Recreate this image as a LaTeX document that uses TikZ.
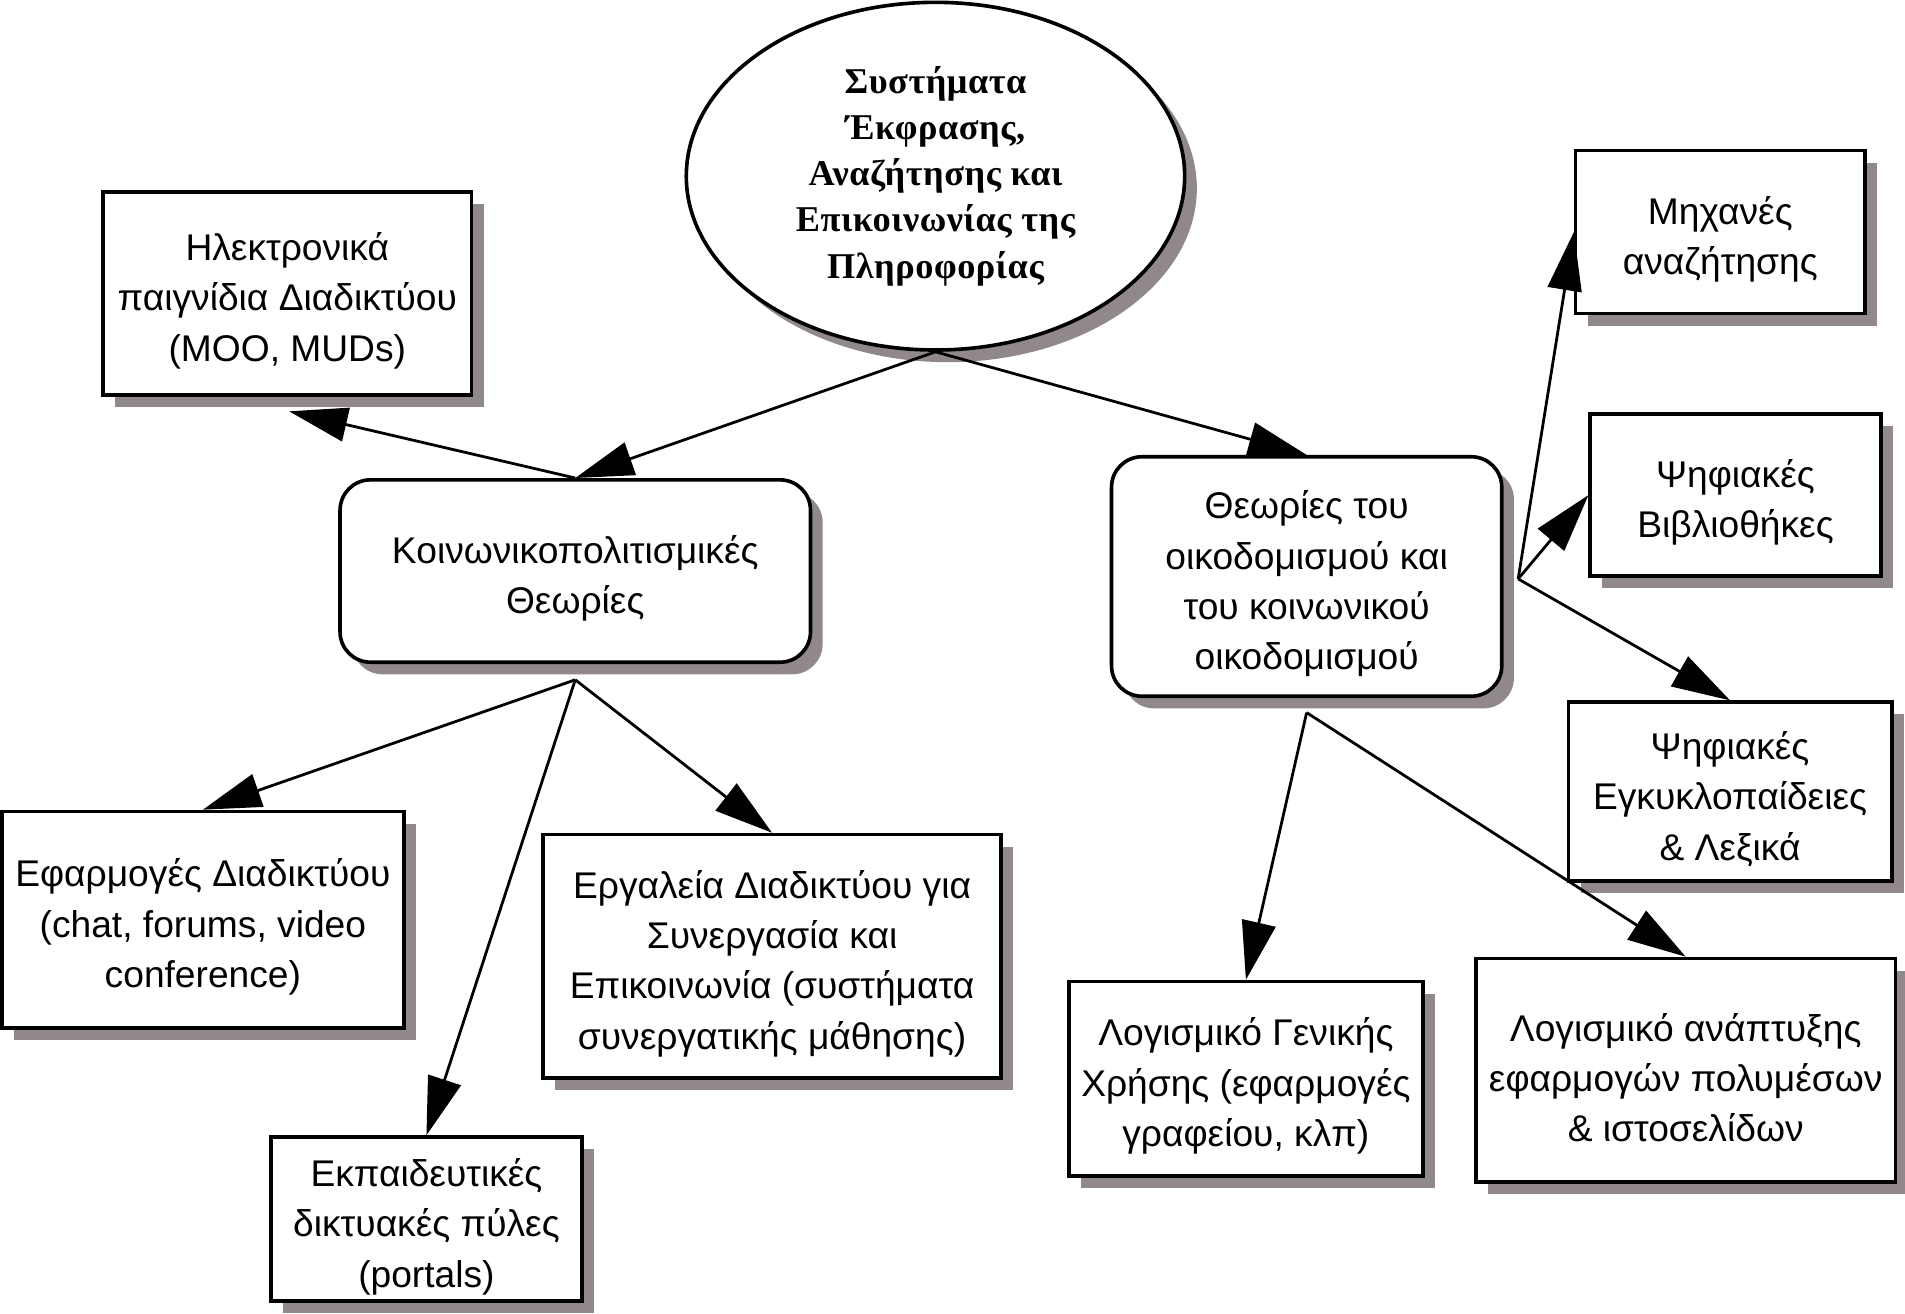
\documentclass[tikz,border=0pt]{standalone}
\usepackage{fontspec}
\setmainfont{Liberation Sans}
\newfontfamily\titlefont[LetterSpace=1.5]{Liberation Serif}
\usetikzlibrary{arrows.meta,shapes.geometric,shadows}
\definecolor{shadowgray}{RGB}{145,137,137}
\newcommand{\topstrut}{\vrule width 0pt height 10pt\relax}
\begin{document}
\begin{tikzpicture}[x=0.01cm, y=-0.01cm,
  shade/.style={drop shadow={shadow xshift=1mm, shadow yshift=-1mm, fill=shadowgray, opacity=1}},
  box/.style={draw, shape=rectangle, line width=0.85pt, fill=white, shade, align=center,
    inner sep=0pt, font=\fontsize{8.7}{11.8}\selectfont},
  rbox/.style={box, rounded corners=2.5mm},
  topic/.style={draw, shape=ellipse, line width=0.85pt, fill=white, shade, align=center,
    inner sep=0pt, font=\titlefont\bfseries\fontsize{8.5}{10.8}\selectfont},
  arr/.style={-{Triangle[length=4.8mm, width=2.8mm]}, line width=0.65pt}]
\useasboundingbox (0,0) rectangle (1568,1081);
% top of the map
\node (systems) [topic, minimum width=4.1cm, minimum height=2.86cm] at (770,145)
  {Συστήματα\\Έκφρασης,\\Αναζήτησης και\\Επικοινωνίας της\\Πληροφορίας};
\node (games) [box, minimum width=3.03cm, minimum height=1.67cm] at (236.5,241.5)
  {\topstrut Ηλεκτρονικά\\παιγνίδια Διαδικτύου\\(MOO, MUDs)};
% the two theories
\node (social) [rbox, minimum width=3.87cm, minimum height=1.5cm] at (473.5,470)
  {\topstrut Κοινωνικοπολιτισμικές\\Θεωρίες};
\node (constr) [rbox, minimum width=3.21cm, minimum height=1.97cm] at (1075.5,474.5)
  {\topstrut Θεωρίες του\\οικοδομισμού και\\του κοινωνικού\\οικοδομισμού};
% right column
\node (engines) [box, minimum width=2.38cm, minimum height=1.34cm] at (1416,191)
  {\topstrut Μηχανές\\αναζήτησης};
\node (libs) [box, minimum width=2.39cm, minimum height=1.33cm] at (1428.5,407.5)
  {\topstrut Ψηφιακές\\Βιβλιοθήκες};
\node (encyc) [box, minimum width=2.66cm, minimum height=1.47cm] at (1424,651.5)
  {\topstrut Ψηφιακές\\Εγκυκλοπαίδειες\\\& Λεξικά};
% bottom row
\node (apps) [box, minimum width=3.31cm, minimum height=1.78cm] at (167,757)
  {\topstrut Εφαρμογές Διαδικτύου\\(chat, forums, video\\conference)};
\node (tools) [box, minimum width=3.77cm, minimum height=2cm] at (635.5,787)
  {\topstrut Εργαλεία Διαδικτύου για\\Συνεργασία και\\Επικοινωνία (συστήματα\\συνεργατικής μάθησης)};
\node (portals) [box, minimum width=2.56cm, minimum height=1.35cm] at (351,1003.5)
  {\topstrut Εκπαιδευτικές\\δικτυακές πύλες\\(portals)};
\node (office) [box, minimum width=2.91cm, minimum height=1.6cm] at (1025.5,888)
  {\topstrut Λογισμικό Γενικής\\Χρήσης (εφαρμογές\\γραφείου, κλπ)};
\node (media) [box, minimum width=3.45cm, minimum height=1.84cm] at (1387.5,881)
  {\topstrut Λογισμικό ανάπτυξης\\εφαρμογών πολυμέσων\\\& ιστοσελίδων};
% branch points
\coordinate (socialout) at ([yshift=-1.3mm]social.south);
\coordinate (constrout) at ([yshift=-1.2mm]constr.south);
\coordinate (constrside) at ([xshift=1.2mm,yshift=-0.2mm]constr.east);
\coordinate (gamesin) at ([xshift=0.15mm,yshift=-1.2mm]games.south);
\draw[arr] (systems.south) -- (social.north);
\draw[arr] (systems.south) -- (constr.north);
\draw[arr] (social.north) -- (gamesin);
\draw[arr] (socialout) -- (apps.north);
\draw[arr] (socialout) -- (tools.north);
\draw[arr] (socialout) -- (portals.north);
\draw[arr] (constrside) -- (engines.west);
\draw[arr] (constrside) -- (libs.west);
\draw[arr] (constrside) -- (encyc.north);
\draw[arr] (constrout) -- (office.north);
\draw[arr] (constrout) -- (media.north);
\end{tikzpicture}
\end{document}
